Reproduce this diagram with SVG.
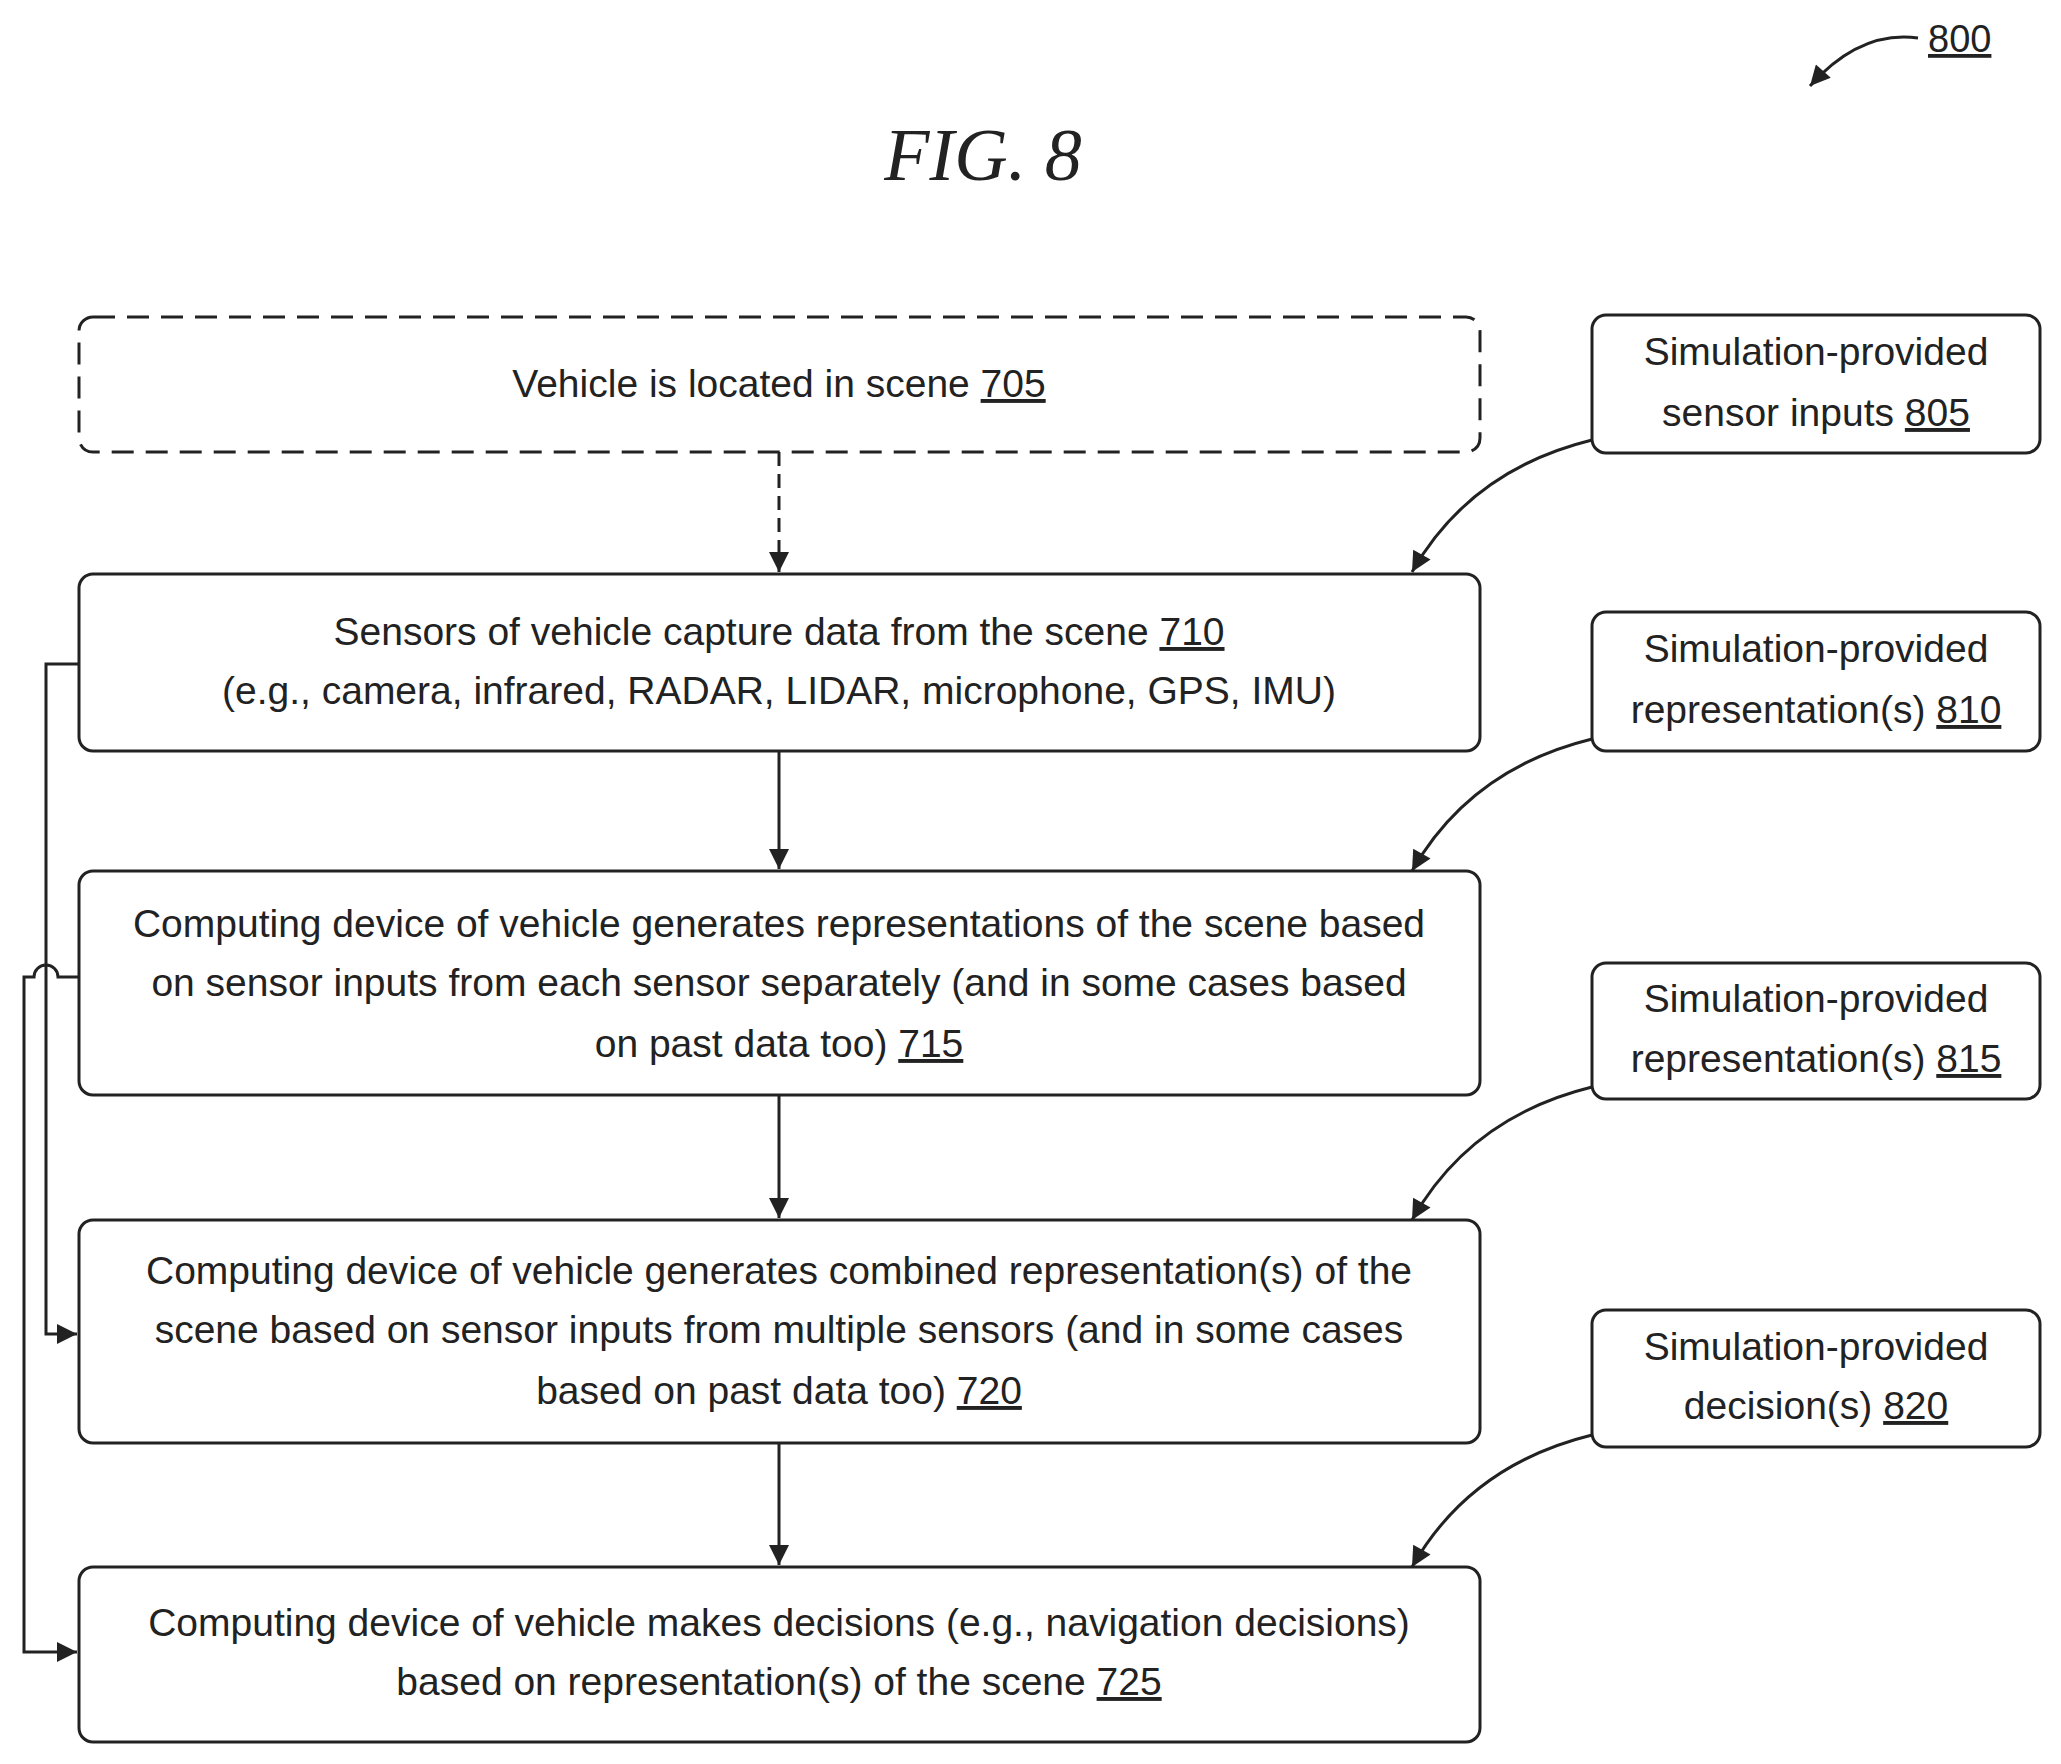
<svg xmlns="http://www.w3.org/2000/svg" width="2061" height="1764" viewBox="0 0 2061 1764">
<defs>
<marker id="ah" viewBox="0 0 10 10" refX="10" refY="5" markerWidth="22" markerHeight="20" orient="auto" markerUnits="userSpaceOnUse"><path d="M0,0 L10,5 L0,10 z" fill="#222"/></marker>
<style>
.b{fill:#fff;stroke:#222;stroke-width:3}
.d{stroke-dasharray:22 12}
.t{font-family:"Liberation Sans",Arial,sans-serif;font-size:39px;fill:#222;text-anchor:middle}
.u{text-decoration:underline}
.c{fill:none;stroke:#222;stroke-width:3}
</style>
</defs>
<rect width="2061" height="1764" fill="#fff"/>
<text x="983" y="180" style="font-family:'Liberation Serif',serif;font-style:italic;font-size:74px;fill:#222" text-anchor="middle">FIG. 8</text>
<g id="n800"><text x="1928" y="52" class="t u" style="text-anchor:start;font-size:38px">800</text></g>
<g id="n705"><rect class="b d" x="79" y="317" width="1401" height="135" rx="14"/><text class="t" x="779" y="397">Vehicle is located in scene <tspan class="u">705</tspan></text></g>
<g id="n710"><rect class="b" x="79" y="574" width="1401" height="177" rx="14"/><text class="t" x="779" y="645">Sensors of vehicle capture data from the scene <tspan class="u">710</tspan></text><text class="t" x="779" y="704">(e.g., camera, infrared, RADAR, LIDAR, microphone, GPS, IMU)</text></g>
<g id="n715"><rect class="b" x="79" y="871" width="1401" height="224" rx="14"/><text class="t" x="779" y="937">Computing device of vehicle generates representations of the scene based</text><text class="t" x="779" y="996">on sensor inputs from each sensor separately (and in some cases based</text><text class="t" x="779" y="1057">on past data too) <tspan class="u">715</tspan></text></g>
<g id="n720"><rect class="b" x="79" y="1220" width="1401" height="223" rx="14"/><text class="t" x="779" y="1284">Computing device of vehicle generates combined representation(s) of the</text><text class="t" x="779" y="1343">scene based on sensor inputs from multiple sensors (and in some cases</text><text class="t" x="779" y="1404">based on past data too) <tspan class="u">720</tspan></text></g>
<g id="n725"><rect class="b" x="79" y="1567" width="1401" height="175" rx="14"/><text class="t" x="779" y="1636">Computing device of vehicle makes decisions (e.g., navigation decisions)</text><text class="t" x="779" y="1695">based on representation(s) of the scene <tspan class="u">725</tspan></text></g>
<g id="n805"><rect class="b" x="1592" y="315" width="448" height="138" rx="14"/><text class="t" x="1816" y="365">Simulation-provided</text><text class="t" x="1816" y="426">sensor inputs <tspan class="u">805</tspan></text></g>
<g id="n810"><rect class="b" x="1592" y="612" width="448" height="139" rx="14"/><text class="t" x="1816" y="662">Simulation-provided</text><text class="t" x="1816" y="723">representation(s) <tspan class="u">810</tspan></text></g>
<g id="n815"><rect class="b" x="1592" y="963" width="448" height="136" rx="14"/><text class="t" x="1816" y="1012">Simulation-provided</text><text class="t" x="1816" y="1072">representation(s) <tspan class="u">815</tspan></text></g>
<g id="n820"><rect class="b" x="1592" y="1310" width="448" height="137" rx="14"/><text class="t" x="1816" y="1360">Simulation-provided</text><text class="t" x="1816" y="1419">decision(s) <tspan class="u">820</tspan></text></g>
<g id="connectors">
<path class="c" d="M1918,38 Q1860,30 1810,86" marker-end="url(#ah)"/>
<path class="c" d="M779,452 V572" marker-end="url(#ah)" style="stroke-dasharray:14 8"/>
<path class="c" d="M779,751 V869" marker-end="url(#ah)"/>
<path class="c" d="M779,1095 V1218" marker-end="url(#ah)"/>
<path class="c" d="M779,1443 V1565" marker-end="url(#ah)"/>
<path class="c" d="M1592,440 Q1470,470 1412,572" marker-end="url(#ah)"/>
<path class="c" d="M1592,739 Q1470,769 1412,871" marker-end="url(#ah)"/>
<path class="c" d="M1592,1087 Q1470,1117 1412,1220" marker-end="url(#ah)"/>
<path class="c" d="M1592,1435 Q1470,1465 1412,1567" marker-end="url(#ah)"/>
<path class="c" d="M79,664 H46 V1334 H77" marker-end="url(#ah)"/>
<path class="c" d="M79,977 H58 A12,12 0 0 0 34,977 H24 V1652 H77" marker-end="url(#ah)"/>
</g>
</svg>
